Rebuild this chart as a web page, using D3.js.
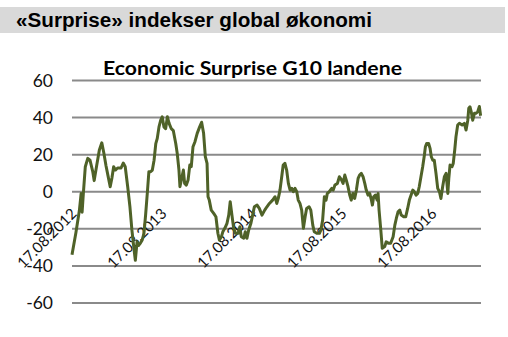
<!DOCTYPE html>
<html>
<head>
<meta charset="utf-8">
<script src="https://cdn.jsdelivr.net/npm/d3@7"></script>
<style>
  html, body { margin: 0; padding: 0; background: #fff; }
  svg { display: block; }
</style>
</head>
<body>
<svg id="chart" width="508" height="337"></svg>
<script>
// Economic Surprise index, G10 countries
const pageTitle = "«Surprise» indekser global økonomi";
const chartTitle = "Economic Surprise G10 landene";
const firstObservation = "2012-08-17";

// days since first observation
const dayOffsets = [
  0, 16, 30, 37, 41, 46, 54, 64, 73, 84, 90, 100, 111, 121, 129, 138, 147, 155, 162, 169,
  176, 185, 199, 208, 216, 226, 235, 243, 252, 257, 264, 270, 276, 285, 292, 299, 306, 312, 319, 326,
  333, 340, 346, 353, 360, 366, 373, 380, 387, 394, 403, 411, 421, 427, 434, 438, 445, 452, 457, 464,
  471, 478, 484, 491, 499, 508, 518, 526, 534, 541, 548, 552, 557, 565, 575, 584, 592, 598, 606, 612,
  620, 629, 636, 642, 649, 656, 663, 674, 681, 687, 697, 703, 710, 717, 726, 733, 740, 751, 760, 771,
  782, 791, 801, 814, 824, 831, 837, 844, 851, 857, 864, 871, 878, 885, 892, 898, 905, 912, 918, 925,
  932, 939, 946, 952, 962, 969, 977, 983, 993, 1004, 1010, 1017, 1024, 1031, 1036, 1044, 1054, 1060, 1067, 1077,
  1085, 1093, 1100, 1107, 1113, 1120, 1127, 1133, 1140, 1147, 1154, 1161, 1167, 1174, 1181, 1188, 1194, 1201, 1208, 1215,
  1219, 1224, 1231, 1238, 1242, 1246, 1253, 1259, 1269, 1275, 1285, 1293, 1303, 1310, 1316, 1323, 1330, 1336, 1346, 1354,
  1362, 1369, 1376, 1383, 1389, 1396, 1403, 1409, 1416, 1423, 1430, 1434, 1439, 1447, 1453, 1458, 1464, 1470, 1477, 1484,
  1491, 1497, 1504, 1511, 1518, 1525, 1529, 1534, 1542, 1547, 1553, 1558, 1565, 1572, 1583, 1592, 1599, 1606, 1610, 1615,
  1620, 1626, 1633, 1639, 1646, 1653, 1658
];

const surpriseValues = [
  -34, -22, -10, -1, -11, -1, 13.5, 18, 17, 11, 6, 14, 22.5, 26.4, 21, 14, 8, 2.7, 7.4, 13.5,
  11.7, 12.8, 12.8, 15.5, 13.5, 2.7, -8, -20.6, -31.4, -37, -27, -29, -28, -26, -22.4, -12, 0, 10.8, 10.8, 11.7,
  17, 26, 28.8, 35, 38.6, 40.4, 35, 34, 40.4, 36.9, 34, 33, 26, 20.7, 11.7, 2.7, 7.2, 11.7, 4.5, 3.6,
  6.3, 14.4, 13.5, 24.3, 27, 31.5, 35, 37.5, 31.5, 18.9, 15.3, -2.7, -4.5, -9.9, -11.7, -13.5, -22.4, -26, -24.3, -21.6,
  -19.7, -17, -12.6, -5.4, -12.6, -19.7, -22.4, -22.4, -18.9, -24.3, -25.1, -21.6, -25.1, -20.6, -17, -12.6, -8.1, -7.2, -9, -12.6,
  -9.9, -8.1, -6.3, -4.5, -2.7, -6.3, -3.6, 0.9, 8.1, 14.4, 15.3, 11.7, 4.5, 0.9, 1.8, 0, 1.8, 0, -4.5, -6.3,
  -9.9, -19.7, -13.5, -9, -8.1, -9.9, -18, -21.6, -22.4, -22.4, -20.6, -15.3, -2.7, -4.5, -0.9, 0, 1.8, 0.9, 3.6, 4.5,
  8.1, 6.5, 4.5, 9, 6.3, 2.7, -1.8, -4.5, -0.9, -3.6, 0.9, 7.2, 9, 9.9, 8.1, 4.5, 0.9, -1.8, -0.9, -4.5,
  -7.2, -2.7, -1.8, -4.5, -0.9, -9.9, -20.6, -30.5, -29.6, -27, -27.8, -27.8, -24.3, -18, -14.4, -10.8, -9.9, -12.6, -13.5, -13.5,
  -9, -4.5, -1.8, 0.9, 0, -1.8, -0.9, 2.7, 8.1, 13.5, 19.8, 24.3, 26, 26, 23.4, 18.9, 17, 17, 9.9, 1.8,
  0, -3.6, 2.7, 8.1, 9.9, -0.9, 7.2, 14.4, 13.5, 15.3, 22.5, 29.6, 36, 36.9, 36, 36.9, 33.3, 38.6, 45, 45.8,
  43.1, 38.6, 42.3, 42.3, 43.1, 46, 41
];

const yTicks = [-60, -40, -20, 0, 20, 40, 60];
const labelYears = [0, 1, 2, 3, 4]; // anniversaries of the first observation

const svg = d3.select("#chart");
const start = d3.timeParse("%Y-%m-%d")(firstObservation);
const series = dayOffsets.map((d, i) => ({ date: d3.timeDay.offset(start, d), value: surpriseValues[i] }));

const plot = { left: 72, right: 481 };
const x = d3.scaleTime()
  .domain(d3.extent(series, d => d.date))
  .range([plot.left, 480.6]);
const y = d3.scaleLinear().domain([-60, 60]).range([303, 80.5]);

// header band
svg.append("rect")
  .attr("x", 0).attr("y", 7).attr("width", 505).attr("height", 26)
  .attr("fill", "#d9d9d9");

svg.append("text")
  .attr("x", 16).attr("y", 27)
  .attr("font-family", "Liberation Sans, Arial, sans-serif")
  .attr("font-weight", "bold")
  .attr("font-size", 19.5)
  .attr("textLength", 356)
  .attr("lengthAdjust", "spacingAndGlyphs")
  .attr("fill", "#000")
  .text(pageTitle);

// gridlines
svg.append("g")
  .selectAll("line")
  .data(yTicks)
  .join("line")
  .attr("x1", plot.left).attr("x2", plot.right)
  .attr("y1", d => y(d)).attr("y2", d => y(d))
  .attr("stroke", "#8a8a8a")
  .attr("stroke-width", 2);

// y tick labels
svg.append("g")
  .selectAll("text")
  .data(yTicks)
  .join("text")
  .attr("x", 53)
  .attr("y", d => y(d))
  .attr("dy", "0.36em")
  .attr("text-anchor", "end")
  .attr("font-family", "Lato, sans-serif")
  .attr("font-size", 17.5)
  .attr("fill", "#111")
  .text(d => d);

// chart title
svg.append("text")
  .attr("x", 103).attr("y", 75)
  .attr("font-family", "Lato, sans-serif")
  .attr("font-weight", "bold")
  .attr("font-size", 19.5)
  .attr("textLength", 299)
  .attr("lengthAdjust", "spacingAndGlyphs")
  .attr("fill", "#000")
  .text(chartTitle);

// date labels
const fmt = d3.timeFormat("%d.%m.%Y");
svg.append("g")
  .selectAll("text")
  .data(labelYears.map(k => d3.timeYear.offset(start, k)))
  .join("text")
  .attr("transform", d => `translate(${x(d) + 2},${211}) rotate(-45)`)
  .attr("text-anchor", "end")
  .attr("dy", "0.35em")
  .attr("font-family", "Lato, sans-serif")
  .attr("font-size", 15)
  .attr("fill", "#111")
  .text(d => fmt(d));

// the index line
svg.append("path")
  .datum(series)
  .attr("fill", "none")
  .attr("stroke", "#4f6228")
  .attr("stroke-width", 3)
  .attr("stroke-linejoin", "round")
  .attr("d", d3.line().x(d => x(d.date)).y(d => y(d.value)));
</script>
</body>
</html>
